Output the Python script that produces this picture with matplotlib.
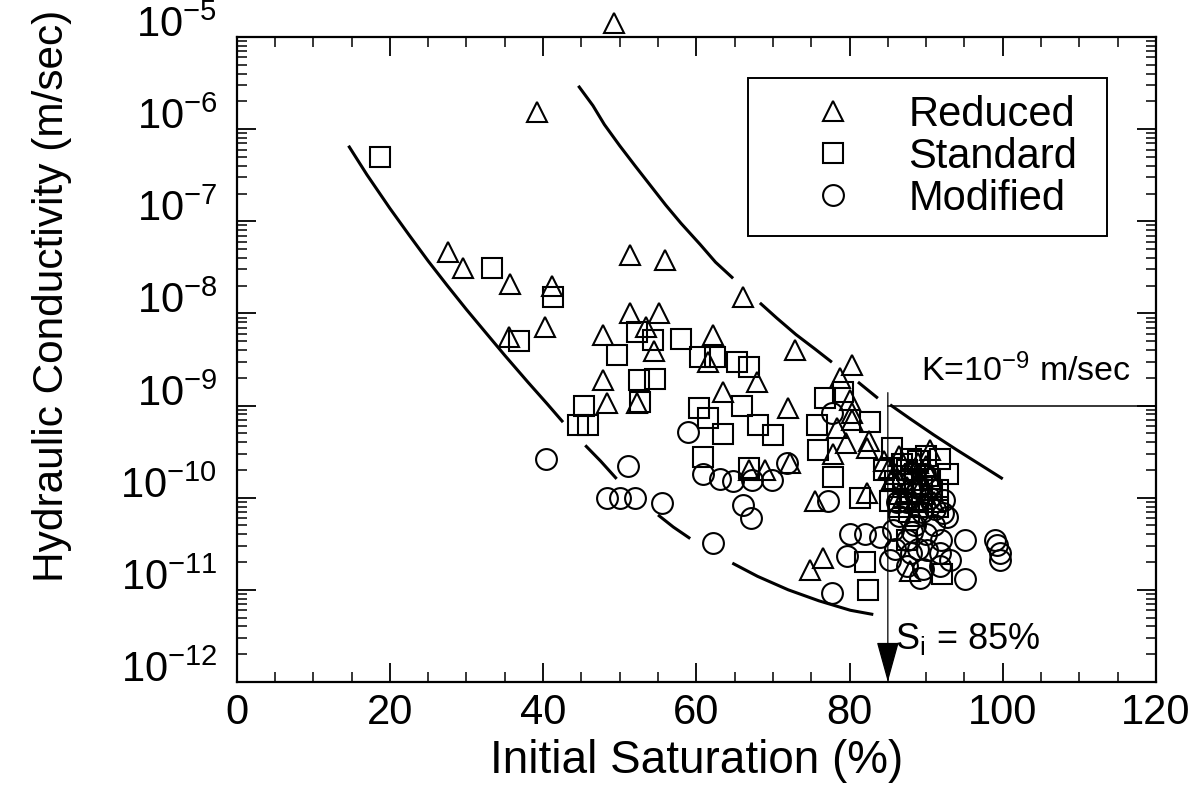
import numpy as np
import matplotlib.pyplot as plt

plt.rcParams['font.family'] = ['Liberation Sans', 'DejaVu Sans']
plt.rcParams['mathtext.fontset'] = 'custom'
plt.rcParams['mathtext.rm'] = 'Liberation Sans'
plt.rcParams['mathtext.default'] = 'regular'

# Reduced compaction (triangles): initial saturation (%), K (m/sec)
reduced_s = [49.3, 39.2, 27.6, 29.6, 35.7, 41.2, 40.3, 35.6, 51.4, 55.9,
             51.4, 55.1, 53.4, 47.8, 54.5, 47.8, 52.3, 48.3, 62.2, 61.5,
             67.9, 63.5, 72.0, 66.1, 72.9, 66.9, 69.0, 72.2, 80.3, 78.8,
             80.1, 80.3, 78.3, 80.3, 79.6, 82.5, 77.8, 90.5, 75.5, 82.3,
             76.5, 74.8, 87.9, 82.3, 86.5, 88.0, 89.5, 85.5, 87.0, 90.0,
             84.5, 88.5, 91.0, 86.0, 87.5, 89.0, 90.5, 88.5, 86.5, 89.8,
             85.2]
reduced_k = [1.4e-5, 1.55e-6, 4.6e-8, 3.1e-8, 2.1e-8, 2.0e-8, 7.1e-9, 5.5e-9, 4.3e-8, 3.8e-8,
             1.0e-8, 1.0e-8, 7.1e-9, 5.9e-9, 3.9e-9, 1.9e-9, 1.07e-9, 1.07e-9, 5.9e-9, 2.95e-9,
             1.8e-9, 1.4e-9, 9.5e-10, 1.5e-8, 4.0e-9, 2.0e-10, 2.0e-10, 2.4e-10, 2.75e-9, 2.0e-9,
             1.15e-9, 8.3e-10, 5.75e-10, 6.9e-10, 3.9e-10, 4.1e-10, 3.0e-10, 3.3e-10, 9.3e-11, 1.12e-10,
             2.2e-11, 1.66e-11, 1.6e-11, 3.5e-10, 2.8e-10, 2.0e-10, 1.4e-10, 1.6e-10, 1.0e-10, 2.2e-10,
             2.5e-10, 6.3e-11, 8.9e-11, 1.8e-10, 1.3e-10, 2.4e-10, 1.7e-10, 9.0e-11, 1.1e-10, 1.1e-10,
             2.1e-10]

# Standard compaction (squares)
standard_s = [18.7, 33.3, 41.3, 36.9, 49.7, 52.3, 54.4, 52.5, 54.6, 45.3,
              52.6, 44.6, 45.9, 58.0, 60.5, 62.4, 65.3, 66.9, 66.0, 60.4,
              61.5, 63.5, 68.0, 70.0, 60.9, 66.9, 76.8, 79.1, 75.7, 82.7,
              75.9, 85.6, 91.8, 77.8, 81.4, 85.3, 91.5, 82.0, 82.4, 92.1,
              87.5, 89.0, 90.5, 88.0, 86.5, 89.5, 90.0, 91.5, 87.0, 84.5,
              92.8, 87.5, 86.0, 88.5, 89.5, 88.0, 90.8, 86.8, 89.0, 87.8]
standard_k = [5.0e-7, 3.1e-8, 1.5e-8, 5.0e-9, 3.5e-9, 6.3e-9, 5.1e-9, 1.9e-9, 1.95e-9, 1.0e-9,
              1.1e-9, 6.2e-10, 6.2e-10, 5.25e-9, 3.4e-9, 3.4e-9, 2.95e-9, 2.6e-9, 1.0e-9, 9.3e-10,
              7.4e-10, 4.9e-10, 6.2e-10, 4.8e-10, 2.75e-10, 2.1e-10, 1.2e-9, 1.4e-9, 6.2e-10, 6.6e-10,
              3.3e-10, 3.5e-10, 2.6e-10, 1.66e-10, 1.0e-10, 9.3e-11, 1.2e-10, 2.0e-11, 1.0e-11, 1.5e-11,
              2.0e-10, 2.5e-10, 1.6e-10, 1.1e-10, 7.9e-11, 7.9e-11, 2.8e-10, 7.9e-11, 1.4e-10, 2.0e-10,
              1.8e-10, 3.5e-11, 1.5e-10, 1.8e-10, 1.3e-10, 2.6e-10, 1.2e-10, 2.3e-10, 9.5e-11, 7.0e-11]

# Modified compaction (circles)
modified_s = [40.4, 51.1, 48.3, 50.0, 52.0, 55.5, 62.2, 58.9, 60.9, 63.1,
              64.8, 67.3, 69.9, 71.8, 66.1, 67.1, 77.7, 77.2, 80.0, 82.0,
              84.0, 79.7, 77.7, 95.1, 99.0, 99.3, 99.7, 99.7, 95.1, 89.2,
              91.8, 92.2, 92.7, 85.7, 90.1, 91.8, 93.1, 85.3, 87.5, 89.6,
              86.5, 88.5, 90.0, 87.5, 89.0, 91.0, 86.0, 88.0, 92.0, 90.5,
              89.0, 87.5, 87.0, 88.5, 89.8, 91.2, 86.2, 89.5, 88.0, 90.5,
              92.3, 88.2]
modified_k = [2.6e-10, 2.2e-10, 1.0e-10, 1.0e-10, 1.0e-10, 8.7e-11, 3.2e-11, 5.1e-10, 1.8e-10, 1.6e-10,
              1.5e-10, 1.55e-10, 1.55e-10, 2.4e-10, 8.3e-11, 6.0e-11, 8.3e-10, 9.3e-11, 4.0e-11, 4.0e-11,
              3.7e-11, 2.3e-11, 9.3e-12, 3.5e-11, 3.5e-11, 3.1e-11, 2.5e-11, 2.1e-11, 1.3e-11, 1.35e-11,
              1.8e-11, 6.8e-11, 6.2e-11, 4.5e-11, 2.7e-11, 2.5e-11, 2.1e-11, 2.1e-11, 1.8e-11, 1.7e-11,
              6.3e-11, 5.0e-11, 4.0e-11, 3.5e-11, 2.8e-11, 5.0e-11, 2.8e-11, 2.5e-11, 3.5e-11, 1.0e-10,
              1.26e-10, 8.9e-11, 1.5e-10, 1.1e-10, 1.8e-10, 7.5e-11, 9.0e-11, 7.0e-11, 1.9e-10, 1.3e-10,
              9.5e-11, 4.2e-11]

# bounding curves, drawn as broken pieces like the original
lower_pieces = [
    ([14.6, 17.0, 20.0, 22.5, 25.0, 27.5, 30.0, 32.5, 35.0, 38.0, 40.5, 42.6],
     [6.6e-7, 3.2e-7, 1.38e-7, 7.1e-8, 3.7e-8, 2.0e-8, 1.1e-8, 6.2e-9, 3.5e-9, 1.8e-9, 1.05e-9, 6.6e-10]),
    ([45.5, 47.5, 49.6], [3.7e-10, 2.5e-10, 1.6e-10]),
    ([55.0, 57.0, 59.2], [6.5e-11, 4.8e-11, 3.6e-11]),
    ([64.7, 68.0, 72.0, 76.0, 80.1, 83.1], [1.95e-11, 1.4e-11, 1.0e-11, 7.6e-12, 6.0e-12, 5.4e-12]),
]
upper_pieces = [
    ([44.6, 46.5, 48.0, 50.0, 52.0, 54.0, 56.0, 58.0, 60.5, 62.5, 64.8],
     [2.95e-6, 1.8e-6, 1.12e-6, 6.6e-7, 4.0e-7, 2.45e-7, 1.5e-7, 9.5e-8, 5.6e-8, 3.6e-8, 2.4e-8]),
    ([68.3, 70.5, 73.0, 75.5, 77.7], [1.3e-8, 8.9e-9, 5.9e-9, 4.1e-9, 2.95e-9]),
    ([81.1, 83.7], [1.8e-9, 1.2e-9]),
    ([85.3, 88.0, 91.0, 94.0, 97.0, 100.0], [1.02e-9, 7.1e-10, 4.8e-10, 3.3e-10, 2.3e-10, 1.6e-10]),
]

k_limit = 1e-9
s_limit = 85
x_ticks = [0, 20, 40, 60, 80, 100, 120]
y_exponents = [-12, -11, -10, -9, -8, -7, -6, -5]

fig = plt.figure(figsize=(12.02, 7.98), dpi=100)
ax = fig.add_axes([0.1969, 0.1454, 0.7648, 0.8083])
ax.set_yscale('log')

for xs, ks in lower_pieces + upper_pieces:
    ax.plot(xs, ks, color='black', linewidth=2.2, solid_capstyle='butt')

mk = dict(linestyle='none', markerfacecolor='none', markeredgecolor='black',
          markersize=15, markeredgewidth=1.5)
ax.plot(reduced_s, reduced_k, marker='^', label='Reduced', clip_on=False, **mk)
ax.plot(standard_s, standard_k, marker='s', label='Standard', **mk)
ax.plot(modified_s, modified_k, marker='o', label='Modified', **mk)

# K = 1e-9 line and the Si = 85% arrow
ax.plot([s_limit, 120], [k_limit, k_limit], color='black', linewidth=1.1)
ax.annotate('', xy=(s_limit, 1e-12), xytext=(s_limit, 1.38e-9),
            arrowprops=dict(arrowstyle='-|>,head_length=1.3,head_width=0.36',
                            mutation_scale=20, color='black', lw=0.9,
                            shrinkA=0, shrinkB=0))
ax.text(89.3, 1.82e-9, r'K=10$^{-9}$ m/sec', fontsize=24.5, va='baseline', ha='left')
ax.text(86.0, 2.3e-12, r'S$_{i}$ = 85%', fontsize=26, va='baseline', ha='left')

ax.set_xlim(0, 120)
ax.set_ylim(1e-12, 1e-5)
ax.set_xticks(x_ticks)
ax.set_xticklabels([str(v) for v in x_ticks])
ax.set_xticks(np.arange(0, 121, 5), minor=True)
ax.set_yticks([10.0 ** e for e in y_exponents])
ax.set_yticklabels([r'$10^{%d}$' % e for e in y_exponents])

ax.tick_params(which='both', direction='in', top=True, right=True)
ax.tick_params(which='major', length=14, width=1.3, labelsize=30)
ax.tick_params(axis='x', which='major', pad=8)
ax.tick_params(axis='y', which='major', pad=14)
ax.tick_params(which='minor', length=7, width=1.1)
for t in ax.yaxis.get_major_ticks():
    t.label1.set_verticalalignment('baseline')
for sp in ax.spines.values():
    sp.set_linewidth(1.6)

ax.set_xlabel('Initial Saturation (%)', fontsize=33, labelpad=4)
ax.set_ylabel('Hydraulic Conductivity (m/sec)', fontsize=30.5)
ax.yaxis.set_label_coords(-0.179, 0.598)

leg = ax.legend(loc='upper left', bbox_to_anchor=(0.556, 0.70, 0.391, 0.236),
                mode='expand', borderaxespad=0, fontsize=30, handlelength=3.3,
                handletextpad=0.15, labelspacing=0.05, borderpad=0.4,
                fancybox=False, framealpha=1)
leg.get_frame().set_edgecolor('black')
leg.get_frame().set_linewidth(1.4)

fig.savefig('out.png', dpi=100)
